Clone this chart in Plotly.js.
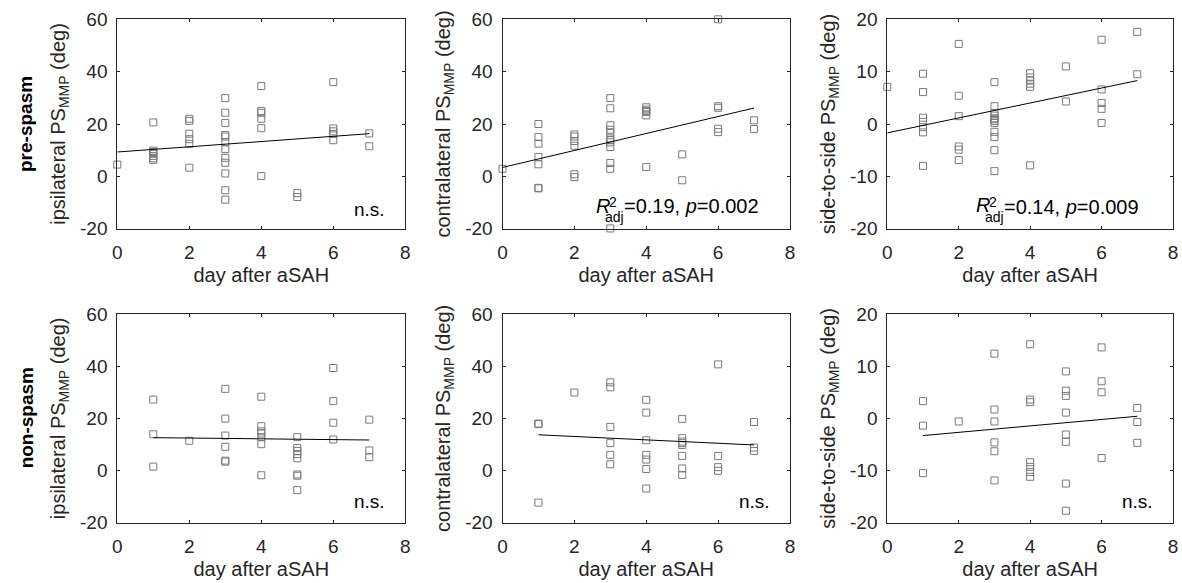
<!DOCTYPE html>
<html>
<head>
<meta charset="utf-8">
<script src="https://cdn.plot.ly/plotly-3.0.1.min.js"></script>
<style>html,body{margin:0;padding:0;background:#fff;}#chart{width:1182px;height:583px;}</style>
</head>
<body>
<div id="chart"></div>
<script>
// ---- data ----
const rowLabels = ['pre-spasm', 'non-spasm'];
const yTitles = ['ipsilateral PS<sub>MMP</sub> (deg)', 'contralateral PS<sub>MMP</sub> (deg)', 'side-to-side PS<sub>MMP</sub> (deg)'];
const xTitle = 'day after aSAH';
const xTicks = [0, 2, 4, 6, 8];
const yTicksWide = [-20, 0, 20, 40, 60];
const yTicksSide = [-20, -10, 0, 10, 20];

// pre-spasm, ipsilateral
const preIpsiDay = [0, 1,1,1,1,1,1,1, 2,2,2,2,2,2, 3,3,3,3,3,3,3,3,3,3,3,3, 4,4,4,4,4,4, 5,5, 6,6,6,6,6, 7,7];
const preIpsiPS  = [4.5, 20.6,9.8,9.3,8.6,7.8,6.9,6.3, 22.0,21.2,16.3,14.2,12.4,3.3, 29.9,24.3,20.4,15.8,15.2,13.0,10.4,7.1,5.2,1.1,-5.3,-8.9, 34.5,25.0,24.3,22.0,18.4,0.1, -6.4,-7.9, 36.0,18.3,17.2,16.2,13.8, 16.4,11.5];
// pre-spasm, contralateral
const preContraDay = [0, 1,1,1,1,1,1,1, 2,2,2,2,2,2, 3,3,3,3,3,3,3,3,3,3,3,3, 4,4,4,4,4,4, 5,5, 6,6,6,6,6, 7,7];
const preContraPS  = [2.9, 20.0,15.0,12.5,7.4,4.6,-4.4,-4.6, 16.0,15.2,13.5,11.7,0.8,-0.3, 29.9,26.0,19.5,17.8,16.6,14.5,13.8,13.0,11.2,5.1,2.9,-19.9, 26.4,25.5,25.0,24.6,23.3,3.6, 8.4,-1.5, 60.0,26.8,26.2,18.2,16.9, 21.4,18.1];
// pre-spasm, side-to-side
const preSideDay = [0, 1,1,1,1,1,1,1, 2,2,2,2,2,2, 3,3,3,3,3,3,3,3,3,3,3,3, 4,4,4,4,4,4, 5,5, 6,6,6,6,6, 7,7];
const preSidePS  = [7.1, 9.6,6.1,1.2,0.4,-0.6,-1.6,-8.0, 15.3,5.4,1.5,-4.3,-4.9,-6.9, 8.0,3.4,2.1,1.6,1.1,0.9,0.6,0.2,-1.5,-2.5,-5.0,-9.0, 9.7,8.9,8.3,7.7,7.1,-7.9, 11.0,4.3, 16.1,6.6,4.0,2.9,0.2, 17.6,9.5];
// non-spasm, ipsilateral
const nonIpsiDay = [1,1,1, 2, 3,3,3,3,3,3, 4,4,4,4,4,4,4, 5,5,5,5,5,5,5,5, 6,6,6,6, 7,7,7];
const nonIpsiPS  = [27.2,13.9,1.5, 11.4, 31.3,19.9,13.4,9.1,3.8,3.4, 28.3,17.0,15.0,14.2,12.8,10.1,-1.8, 12.8,8.6,7.5,6.3,4.7,-1.5,-2.0,-7.5, 39.3,26.6,18.3,11.9, 19.5,7.7,5.1];
// non-spasm, contralateral
const nonContraDay = [1,1,1, 2, 3,3,3,3,3,3, 4,4,4,4,4,4,4, 5,5,5,5,5,5,5,5, 6,6,6,6, 7,7,7];
const nonContraPS  = [18.0,17.8,-12.3, 29.9, 33.8,31.9,16.7,10.5,6.0,2.4, 27.1,22.2,11.6,6.0,4.2,0.6,-6.9, 19.8,12.4,11.1,10.5,9.8,5.6,0.8,-1.7, 40.7,5.6,1.3,-0.1, 18.6,8.8,7.5];
// non-spasm, side-to-side
const nonSideDay = [1,1,1, 2, 3,3,3,3,3,3, 4,4,4,4,4,4,4, 5,5,5,5,5,5,5,5, 6,6,6,6, 7,7,7];
const nonSidePS  = [3.3,-1.4,-10.5, -0.6, 12.4,1.7,-0.6,-4.6,-6.3,-11.9, 14.2,3.6,3.1,-8.4,-9.3,-10.3,-11.2, 9.0,5.3,4.3,1.1,-3.1,-4.5,-12.5,-17.7, 13.6,7.1,5.0,-7.6, 2.0,-0.7,-4.7];

// regression lines (end points)
const preIpsiFitDay = [0, 7],   preIpsiFit = [9.3, 16.3];
const preContraFitDay = [0, 7], preContraFit = [3.4, 26.1];
const preSideFitDay = [0, 7],   preSideFit = [-1.7, 8.3];
const nonIpsiFitDay = [1, 7],   nonIpsiFit = [12.6, 11.7];
const nonContraFitDay = [1, 7], nonContraFit = [13.7, 9.8];
const nonSideFitDay = [1, 7],   nonSideFit = [-3.3, 0.4];

const statLabels = ['n.s.', '=0.19, <i>p</i>=0.002', '=0.14, <i>p</i>=0.009', 'n.s.', 'n.s.', 'n.s.'];

// ---- build figure ----
const W = 1182, H = 583;
const colPx = [[117.3, 405.3], [502.5, 790.0], [887.3, 1173.0]];
const rowPx = [[19.3, 228.7], [314.0, 522.7]];
const FONT = '"Liberation Sans", Arial, Helvetica, sans-serif';
const TXT = '#262626';

const panels = [
  {d: preIpsiDay, v: preIpsiPS, fd: preIpsiFitDay, f: preIpsiFit, side: false},
  {d: preContraDay, v: preContraPS, fd: preContraFitDay, f: preContraFit, side: false},
  {d: preSideDay, v: preSidePS, fd: preSideFitDay, f: preSideFit, side: true},
  {d: nonIpsiDay, v: nonIpsiPS, fd: nonIpsiFitDay, f: nonIpsiFit, side: false},
  {d: nonContraDay, v: nonContraPS, fd: nonContraFitDay, f: nonContraFit, side: false},
  {d: nonSideDay, v: nonSidePS, fd: nonSideFitDay, f: nonSideFit, side: true}
];

const data = [];
const layout = {
  width: W, height: H,
  margin: {l: 0, r: 0, t: 0, b: 0},
  paper_bgcolor: '#fff', plot_bgcolor: '#fff',
  showlegend: false,
  font: {family: FONT, size: 19, color: TXT},
  annotations: []
};

panels.forEach((p, i) => {
  const r = Math.floor(i / 3), c = i % 3;
  const sfx = i === 0 ? '' : String(i + 1);
  const xa = 'x' + sfx, ya = 'y' + sfx;
  data.push({type: 'scatter', mode: 'markers', x: p.d, y: p.v, xaxis: xa, yaxis: ya,
    cliponaxis: false,
    marker: {symbol: 'square-open', size: 7, color: '#7a7a7a', line: {width: 1, color: '#7a7a7a'}},
    hoverinfo: 'x+y'});
  data.push({type: 'scatter', mode: 'lines', x: p.fd, y: p.f, xaxis: xa, yaxis: ya,
    line: {color: '#000', width: 1}, hoverinfo: 'skip'});
  const yr = p.side ? [-20, 20] : [-20, 60];
  layout['xaxis' + sfx] = {
    domain: [colPx[c][0] / W, colPx[c][1] / W], anchor: ya,
    range: [0, 8], tickvals: xTicks, ticktext: xTicks.map(String),
    ticks: 'inside', ticklen: 3, tickcolor: TXT, mirror: 'ticks',
    showline: true, linecolor: TXT, linewidth: 1, showgrid: false, zeroline: false,
    tickfont: {size: 19, color: TXT}, ticklabelstandoff: 6,
    automargin: false,
    title: {text: xTitle, font: {size: 20, color: TXT}, standoff: 6}
  };
  const yt = p.side ? yTicksSide : yTicksWide;
  layout['yaxis' + sfx] = {
    domain: [1 - rowPx[r][1] / H, 1 - rowPx[r][0] / H], anchor: xa,
    range: yr, tickvals: yt, ticktext: yt.map(String),
    ticks: 'inside', ticklen: 3, tickcolor: TXT, mirror: 'ticks',
    showline: true, linecolor: TXT, linewidth: 1, showgrid: false, zeroline: false,
    tickfont: {size: 19, color: TXT}, ticklabelstandoff: 5,
    automargin: false,
    title: {text: yTitles[c], font: {size: 20, color: TXT}, standoff: 9}
  };
  // statistics text
  if (statLabels[i] === 'n.s.') {
    layout.annotations.push({xref: xa, yref: ya, x: 7.5, y: p.side ? (r === 0 ? -16.4 : -16.0) : (r === 0 ? -12.8 : -11.7),
      text: 'n.s.', showarrow: false, xanchor: 'right', yanchor: 'middle', font: {size: 19, color: '#000'}});
  } else {
    const base = p.side ? {R: [2.436, -15.47], s: [2.79, -14.9], a: [2.67, -17.67], t: [3.21, -15.76]}
                        : {R: [2.546, -11.33], s: [2.90, -9.8], a: [2.79, -15.34], t: [3.325, -11.5]};
    layout.annotations.push({xref: xa, yref: ya, x: base.R[0], y: base.R[1], text: '<i>R</i>', showarrow: false, xanchor: 'left', yanchor: 'middle', font: {size: 20, color: '#000'}});
    layout.annotations.push({xref: xa, yref: ya, x: base.s[0], y: base.s[1], text: '2', showarrow: false, xanchor: 'left', yanchor: 'middle', font: {size: 14, color: '#000'}});
    layout.annotations.push({xref: xa, yref: ya, x: base.a[0], y: base.a[1], text: 'adj', showarrow: false, xanchor: 'left', yanchor: 'middle', font: {size: 14, color: '#000'}});
    layout.annotations.push({xref: xa, yref: ya, x: base.t[0], y: base.t[1], text: statLabels[i], showarrow: false, xanchor: 'left', yanchor: 'middle', font: {size: 20, color: '#000'}});
  }
});

rowLabels.forEach((lab, r) => {
  layout.annotations.push({xref: 'paper', yref: 'paper', x: 26 / W, y: 1 - (rowPx[r][0] + rowPx[r][1]) / 2 / H,
    text: '<b>' + lab + '</b>', textangle: -90, showarrow: false, xanchor: 'center', yanchor: 'middle',
    font: {size: 19, color: '#000'}});
});

Plotly.newPlot('chart', data, layout, {displayModeBar: false, staticPlot: true});
</script>
</body>
</html>
